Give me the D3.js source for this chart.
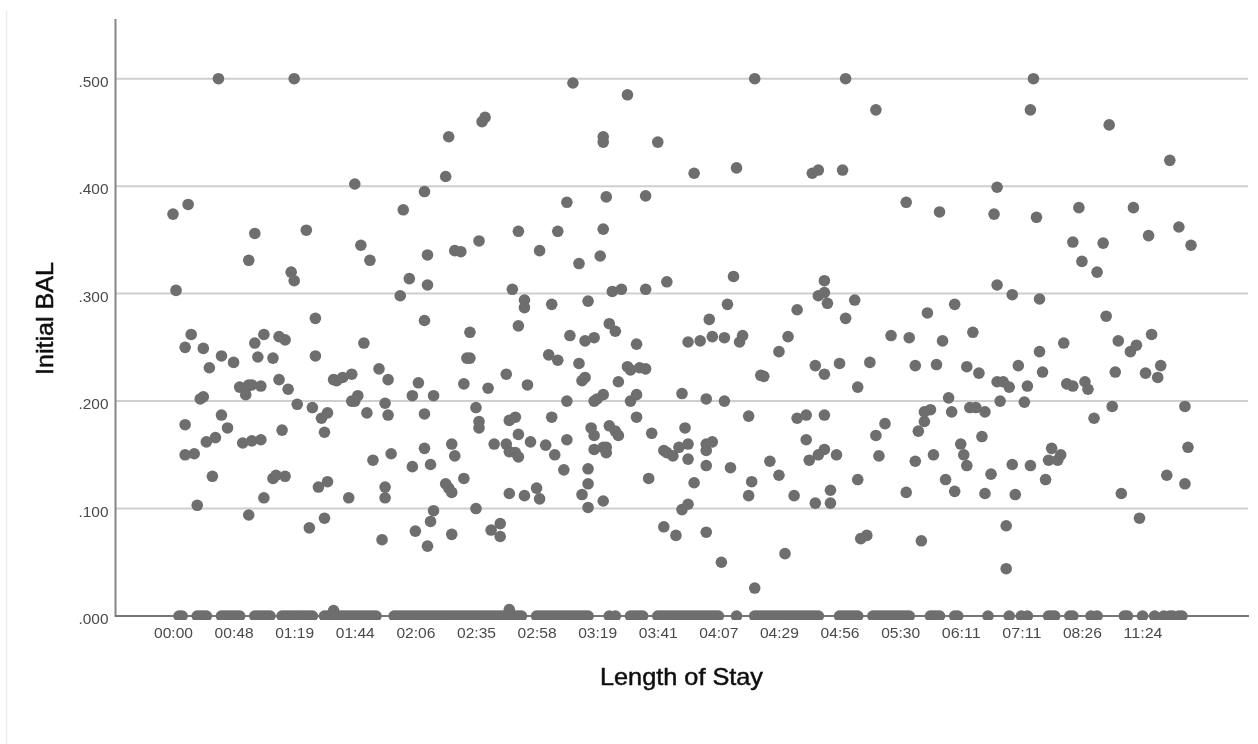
<!DOCTYPE html>
<html>
<head>
<meta charset="utf-8">
<script src="https://cdn.jsdelivr.net/npm/d3@7"></script>
<style>
  html, body { margin: 0; padding: 0; background: #fff; }
  text { font-family: "Liberation Sans", Arial, sans-serif; }
</style>
</head>
<body>
<svg id="chart"></svg>
<script>
// Tick labels on the ordinal Length of Stay axis, one every 20 categories
const stayTickLabels = ["00:00", "00:48", "01:19", "01:44", "02:06", "02:35", "02:58", "03:19", "03:41",
    "04:07", "04:29", "04:56", "05:30", "06:11", "07:11", "08:26", "11:24"];
const balTicks = [0, 0.1, 0.2, 0.3, 0.4, 0.5];

// [category rank, Initial BAL]
const stayBalPairs = [
    [0,.374],[1,.303],[4,.250],[4,.178],[4,.150],[5,.383],[6,.262],[7,.151],[8,.103],[9,.202],[10,.249],[10,.204],
    [11,.162],[12,.231],[13,.130],[14,.166],[15,.500],[16,.242],[16,.187],[18,.175],[20,.236],[22,.213],[23,.161],
    [24,.212],[24,.206],[25,.331],[25,.215],[25,.094],[26,.215],[26,.163],[27,.356],[27,.254],[28,.241],[29,.214],[29,.164],
    [30,.262],[30,.110],[33,.240],[33,.128],[34,.131],[35,.260],[35,.220],[36,.173],[37,.257],[37,.130],[38,.211],
    [39,.320],[40,.500],[40,.312],[41,.197],[44,.359],[45,.082],[46,.194],[47,.277],[47,.242],[48,.120],[49,.184],
    [50,.171],[50,.091],[51,.189],[51,.125],[53,.220],[53,.005],[54,.219],[56,.222],[58,.110],[59,.225],[59,.200],
    [60,.402],[60,.200],[61,.205],[62,.345],[63,.254],[64,.189],[65,.331],[66,.145],[68,.230],[69,.071],[70,.198],[70,.120],[70,.110],
    [71,.220],[71,.187],[72,.151],[75,.298],[76,.378],[78,.314],[79,.205],[79,.139],[80,.079],[81,.217],
    [83,.395],[83,.275],[83,.188],[83,.156],[84,.336],[84,.308],[84,.065],[85,.141],[85,.088],[86,.205],[86,.098],
    [90,.409],[90,.123],[91,.446],[91,.119],[92,.160],[92,.115],[92,.076],[93,.340],[93,.149],[95,.339],
    [96,.216],[96,.128],[97,.240],[98,.264],[98,.240],[100,.194],[100,.100],[101,.349],[101,.181],[101,.175],
    [102,.460],[103,.464],[104,.212],[105,.080],[106,.160],[108,.086],[108,.074],[110,.225],[110,.160],
    [111,.182],[111,.153],[111,.114],[111,.006],[112,.304],[113,.185],[113,.152],[114,.358],[114,.270],[114,.169],[114,.148],
    [116,.294],[116,.287],[116,.112],[117,.215],[118,.162],[120,.119],[121,.340],[121,.109],[123,.159],
    [124,.243],[125,.290],[125,.185],[126,.150],[127,.358],[127,.238],[129,.136],[130,.385],[130,.200],[130,.164],
    [131,.261],[132,.496],[134,.328],[134,.235],[135,.219],[135,.113],[136,.256],[136,.222],[137,.293],[137,.137],[137,.123],[137,.101],
    [138,.175],[139,.259],[139,.200],[139,.168],[139,.155],[140,.202],[141,.335],[142,.446],[142,.441],[142,.360],[142,.206],[142,.157],[142,.107],
    [143,.390],[143,.157],[143,.152],[144,.272],[144,.177],[145,.302],[146,.265],[146,.172],[147,.218],[147,.168],
    [148,.304],[150,.485],[150,.232],[151,.229],[151,.200],[153,.253],[153,.206],[153,.185],[154,.231],
    [156,.391],[156,.304],[156,.230],[157,.128],[158,.170],[160,.441],[162,.154],[162,.083],[163,.311],[163,.152],[165,.149],
    [166,.075],[167,.157],[168,.207],[168,.099],[169,.175],[170,.255],[170,.160],[170,.146],[170,.104],
    [172,.412],[172,.124],[174,.256],[176,.202],[176,.160],[176,.154],[176,.140],[176,.078],[177,.276],[178,.162],[178,.260],
    [181,.050],[182,.259],[182,.200],[183,.290],[184,.138],[185,.316],[186,.417],[187,.255],[188,.261],[190,.186],[190,.112],
    [191,.125],[192,.500],[192,.026],[194,.224],[195,.223],[197,.144],[200,.246],[200,.131],[202,.058],[203,.260],
    [205,.112],[206,.285],[206,.184],[209,.187],[209,.164],[210,.145],[211,.412],[212,.233],[212,.105],[213,.415],[213,.298],[213,.150],
    [215,.312],[215,.301],[215,.225],[215,.187],[215,.155],[216,.291],[217,.117],[217,.105],[219,.150],
    [220,.235],[221,.415],[222,.500],[222,.277],[225,.294],[226,.213],[226,.127],[227,.072],[229,.075],[230,.236],
    [232,.471],[232,.168],[233,.149],[235,.179],[237,.261],[242,.385],[242,.115],[243,.259],[245,.233],[245,.144],[246,.172],[247,.070],
    [248,.190],[248,.181],[249,.282],[250,.192],[251,.150],[252,.234],[253,.376],[254,.256],[255,.127],[256,.203],[257,.190],
    [258,.290],[258,.116],[260,.160],[261,.150],[262,.232],[262,.140],[263,.194],[264,.264],[265,.194],[266,.226],[267,.167],
    [268,.190],[268,.114],[270,.132],[271,.374],[272,.399],[272,.308],[272,.218],[273,.200],[274,.218],[275,.084],[275,.044],
    [276,.213],[277,.299],[277,.141],[278,.113],[279,.233],[281,.199],[282,.214],[283,.471],[283,.140],[284,.500],[285,.371],
    [286,.295],[286,.246],[287,.227],[288,.127],[289,.145],[290,.156],[292,.145],[293,.150],[294,.254],[295,.216],
    [297,.348],[297,.214],[299,.380],[300,.330],[301,.218],[302,.211],[304,.184],[305,.320],[307,.347],[308,.279],[309,.457],
    [310,.195],[311,.227],[312,.256],[313,.114],[316,.246],[317,.380],[318,.252],[319,.091],[321,.226],[322,.354],[323,.262],
    [325,.222],[326,.233],[328,.131],[329,.424],[332,.362],[334,.195],[334,.123],[335,.157],[336,.345]
];

// Ranks whose Initial BAL sits on zero
const zeroBalRanks = [2,3,8,9,10,11,16,17,18,19,20,21,22,27,28,29,30,31,32,36,37,38,39,40,41,42,43,44,45,46,
    50,51,52,53,54,55,56,57,58,59,60,61,62,63,64,65,66,67,73,74,75,76,77,78,79,80,81,82,83,84,85,86,87,88,89,90,
    91,92,93,94,95,96,97,98,99,100,101,102,103,104,105,106,107,108,109,110,111,112,113,114,115,
    120,121,122,123,124,125,126,127,128,129,130,131,132,133,134,135,136,137,144,146,151,152,153,154,155,
    160,161,162,163,164,165,166,167,168,169,170,171,172,173,174,175,176,177,178,179,180,186,
    192,193,194,195,196,197,198,199,200,201,202,203,204,205,206,207,208,209,210,211,212,213,
    220,221,222,223,224,225,226,231,232,233,234,235,236,237,238,239,240,241,242,243,250,251,252,253,258,259,
    269,276,280,282,289,290,291,296,297,303,305,314,315,320,324,327,329,330,332,333];

const width = 1258;
const height = 744;
const rankCount = 337;

const svg = d3.select("#chart")
    .attr("width", width)
    .attr("height", height)
    .style("display", "block");

const defs = svg.append("defs");

// Reference is a soft screenshot, so everything gets a slight blur
defs.append("filter")
    .attr("id", "soft")
    .attr("x", "-5%").attr("y", "-5%")
    .attr("width", "110%").attr("height", "110%")
    .append("feGaussianBlur")
    .attr("stdDeviation", 0.7);

// Dots on zero are cut a little below the axis line
defs.append("clipPath")
    .attr("id", "plotClip")
    .append("rect")
    .attr("x", 0).attr("y", 0)
    .attr("width", width).attr("height", 620);

const root = svg.append("g").attr("filter", "url(#soft)");

const xScale = d3.scalePoint()
    .domain(d3.range(rankCount))
    .range([173, 1191]);

const yScale = d3.scaleLinear()
    .domain([0, 0.5])
    .range([616, 78.7]);

// Faint frame edge on the left
root.append("line")
    .attr("x1", 6.5).attr("x2", 6.5)
    .attr("y1", 11).attr("y2", height)
    .attr("stroke", "#ededed")
    .attr("stroke-width", 1.5);

// Gridlines
root.append("g")
    .selectAll("line")
    .data(balTicks.filter(d => d > 0))
    .join("line")
    .attr("x1", 116)
    .attr("x2", 1248)
    .attr("y1", d => yScale(d))
    .attr("y2", d => yScale(d))
    .attr("stroke", "#cfcfcf")
    .attr("stroke-width", 2);

// Axes
const xAxis = d3.axisBottom(xScale)
    .tickValues(stayTickLabels.map((d, i) => i * 20))
    .tickFormat(d => stayTickLabels[d / 20])
    .tickSize(0)
    .tickPadding(11);

const xAxisGroup = root.append("g")
    .attr("transform", "translate(0,616)")
    .call(xAxis);
xAxisGroup.select(".domain").remove();

const yAxis = d3.axisLeft(yScale)
    .tickValues(balTicks)
    .tickFormat(d => d3.format(".3f")(d).replace(/^0/, ""))
    .tickSize(0)
    .tickPadding(7);

const yAxisGroup = root.append("g")
    .attr("transform", "translate(115.5,0)")
    .call(yAxis);
yAxisGroup.select(".domain").remove();

root.selectAll(".tick text")
    .attr("fill", "#4a4a4a")
    .attr("lengthAdjust", "spacingAndGlyphs")
    .style("font-size", "15px");
xAxisGroup.selectAll(".tick text").attr("textLength", 39);
yAxisGroup.selectAll(".tick text").attr("textLength", 30).attr("dy", "0.5em");

root.append("line")
    .attr("x1", 115.5).attr("x2", 115.5)
    .attr("y1", 19).attr("y2", 617)
    .attr("stroke", "#858585")
    .attr("stroke-width", 2);

root.append("line")
    .attr("x1", 115).attr("x2", 1249)
    .attr("y1", 616).attr("y2", 616)
    .attr("stroke", "#777")
    .attr("stroke-width", 2);

// Points
const allPoints = stayBalPairs.concat(zeroBalRanks.map(r => [r, 0]));

root.append("g")
    .attr("clip-path", "url(#plotClip)")
    .selectAll("circle")
    .data(allPoints)
    .join("circle")
    .attr("cx", d => xScale(d[0]))
    .attr("cy", d => yScale(d[1]))
    .attr("r", 5.8)
    .attr("fill", "#6e6e6e");

// Axis titles
root.append("text")
    .attr("x", 681.5)
    .attr("y", 685)
    .attr("text-anchor", "middle")
    .attr("fill", "#111")
    .attr("stroke", "#111")
    .attr("stroke-width", 0.5)
    .attr("textLength", 163)
    .attr("lengthAdjust", "spacingAndGlyphs")
    .style("font-size", "24px")
    .text("Length of Stay");

root.append("text")
    .attr("transform", "translate(53,318.5) rotate(-90)")
    .attr("text-anchor", "middle")
    .attr("fill", "#111")
    .attr("stroke", "#111")
    .attr("stroke-width", 0.5)
    .attr("textLength", 113)
    .attr("lengthAdjust", "spacingAndGlyphs")
    .style("font-size", "24px")
    .text("Initial BAL");
</script>
</body>
</html>
